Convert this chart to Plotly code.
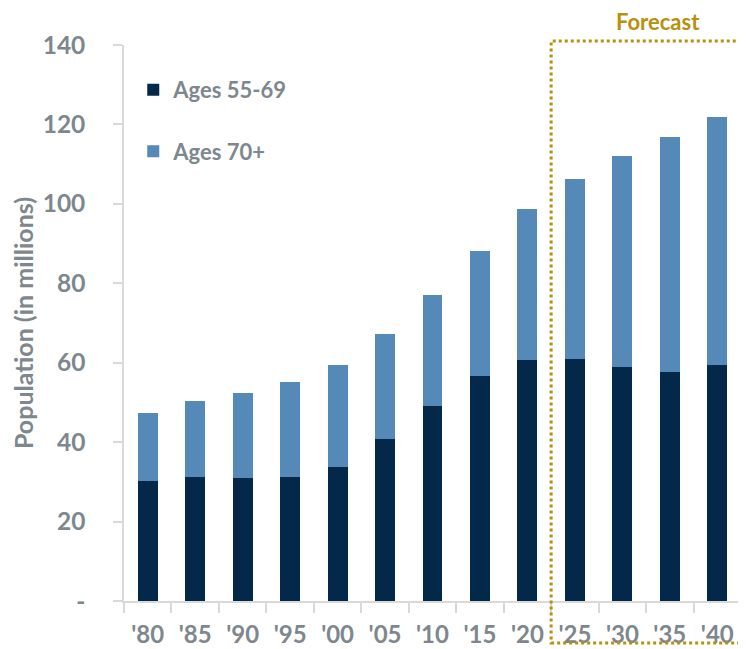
import plotly.graph_objects as go

years = ["'80", "'85", "'90", "'95", "'00", "'05", "'10", "'15", "'20", "'25", "'30", "'35", "'40"]
ages_55_69 = [30.3, 31.3, 31.0, 31.1, 33.7, 40.8, 49.2, 56.7, 60.6, 60.9, 59.0, 57.6, 59.3]
totals = [47.3, 50.4, 52.3, 55.1, 59.4, 67.2, 77.1, 88.2, 98.7, 106.3, 112.1, 116.8, 121.8]
ages_70_plus = [round(t - a, 1) for t, a in zip(totals, ages_55_69)]

y_tickvals = [0, 20, 40, 60, 80, 100, 120, 140]
y_ticktext = ["-", "20", "40", "60", "80", "100", "120", "140"]

DARK = "#03284A"
LIGHT = "#5589B8"
GREY = "#7D878D"
AXIS = "#D9D9D9"
GOLD = "#B8900B"
FONT = "Lato, 'Open Sans', sans-serif"

fig = go.Figure()
fig.add_trace(go.Bar(x=years, y=ages_55_69, name="Ages 55-69", marker=dict(color=DARK, line=dict(width=0)),
                     legendgroup="a"))
fig.add_trace(go.Bar(x=years, y=ages_70_plus, name="Ages 70+", marker=dict(color=LIGHT, line=dict(width=0)),
                     legendgroup="b"))

# page body has an 8px margin, so the figure is sized to fit the 746x649 window
fig.update_layout(
    width=738, height=641,
    margin=dict(l=116, r=5, t=37, b=48, autoexpand=False),
    barmode="stack", bargap=0.58,
    plot_bgcolor="white", paper_bgcolor="white",
    font=dict(family=FONT, size=22, color=GREY, weight="bold"),
    legend=dict(x=0.015, y=0.957, xanchor="left", yanchor="top", traceorder="grouped",
                tracegroupgap=30, font=dict(size=22, color=GREY, weight="bold"), bgcolor="rgba(0,0,0,0)"),
    showlegend=True,
)
fig.update_yaxes(range=[0, 140], tickvals=y_tickvals, ticktext=y_ticktext, showgrid=False, zeroline=False,
                 showline=True, linecolor=AXIS, linewidth=1.5, ticks="outside", ticklen=9, tickcolor=AXIS,
                 tickwidth=1.5, ticklabelstandoff=23, tickfont=dict(size=24.5, weight="bold"),
                 title=dict(text="Population (in millions)", standoff=9, font=dict(size=25, color=GREY, weight="bold")))
fig.update_xaxes(showgrid=False, showline=True, linecolor=AXIS, linewidth=1.5, ticks="outside", ticklen=10,
                 tickcolor=AXIS, tickwidth=1.5, tickson="boundaries", ticklabelstandoff=11,
                 tickfont=dict(size=24, weight="bold"))

fig.add_shape(type="rect", xref="paper", yref="paper", x0=9/13, x1=1.03, y0=-0.0755, y1=1.007,
              line=dict(color=GOLD, width=3, dash="dot"), fillcolor="rgba(0,0,0,0)", layer="above")
fig.add_annotation(text="Forecast", xref="paper", yref="paper", x=0.8655, y=1.043, xanchor="center",
                   yanchor="middle", showarrow=False, borderpad=0,
                   font=dict(family=FONT, size=22, color=GOLD, weight="bold"))

fig.write_html("out.html")
